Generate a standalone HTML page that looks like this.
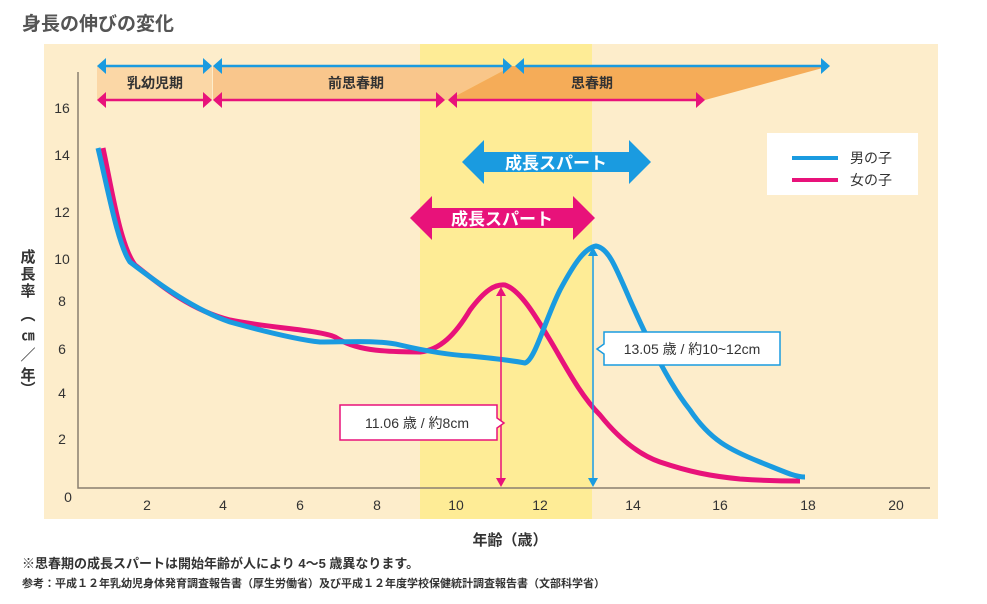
<!DOCTYPE html><html><head><meta charset="utf-8"><style>body{margin:0;background:#fff}svg{display:block;font-family:"Liberation Sans","Noto Sans CJK JP",sans-serif}</style></head><body>
<svg width="987" height="604" viewBox="0 0 987 604">
<text x="22" y="30" font-size="19" font-weight="bold" fill="#555">身長の伸びの変化</text>
<rect x="44" y="44" width="894" height="475" fill="#FDEDCB"/>
<rect x="420" y="44" width="172" height="475" fill="#FEEC96"/>
<rect x="97" y="66" width="115" height="34" fill="#FBD7A6"/>
<polygon points="213,66 512,66 448,100 213,100" fill="#F9C488" opacity="0.95"/>
<polygon points="512,66 830,66 705,100 448,100" fill="#F5AC58"/>
<g font-size="14" font-weight="bold" fill="#333" text-anchor="middle"><text x="155" y="88">乳幼児期</text><text x="356" y="88">前思春期</text><text x="592" y="88">思春期</text></g>
<g stroke-width="2.5" fill="none">
<g stroke="#1A9BE0"><line x1="100" y1="66" x2="209" y2="66"/><line x1="216" y1="66" x2="509" y2="66"/><line x1="518" y1="66" x2="827" y2="66"/></g>
<g stroke="#E8127A"><line x1="100" y1="100" x2="209" y2="100"/><line x1="216" y1="100" x2="442" y2="100"/><line x1="451" y1="100" x2="702" y2="100"/></g>
</g>
<g fill="#1A9BE0"><path d="M97 66l9-8v16z"/><path d="M212 66l-9-8v16z"/><path d="M213 66l9-8v16z"/><path d="M512 66l-9-8v16z"/><path d="M515 66l9-8v16z"/><path d="M830 66l-9-8v16z"/></g>
<g fill="#E8127A"><path d="M97 100l9-8v16z"/><path d="M212 100l-9-8v16z"/><path d="M213 100l9-8v16z"/><path d="M445 100l-9-8v16z"/><path d="M448 100l9-8v16z"/><path d="M705 100l-9-8v16z"/></g>
<path d="M78 72V488H930" stroke="#8a7f70" stroke-width="1.5" fill="none"/>
<g font-size="14" fill="#333" text-anchor="middle">
<text x="62" y="113">16</text><text x="62" y="160">14</text><text x="62" y="217">12</text><text x="62" y="264">10</text><text x="62" y="306">8</text><text x="62" y="354">6</text><text x="62" y="398">4</text><text x="62" y="444">2</text><text x="68" y="502">0</text>
<text x="147" y="510">2</text><text x="223" y="510">4</text><text x="300" y="510">6</text><text x="377" y="510">8</text><text x="456" y="510">10</text><text x="540" y="510">12</text><text x="633" y="510">14</text><text x="720" y="510">16</text><text x="808" y="510">18</text><text x="896" y="510">20</text>
</g>
<g font-size="15" font-weight="bold" fill="#333" text-anchor="middle"><text x="28" y="262">成</text><text x="28" y="279">長</text><text x="28" y="296">率</text><text x="28" y="320">︵</text><text x="28" y="340" font-size="13">㎝</text><text x="28" y="360">／</text><text x="28" y="380">年</text><text x="28" y="394">︶</text></g>
<text x="510" y="545" font-size="15" font-weight="bold" fill="#333" text-anchor="middle">年齢（歳）</text>
<text x="22" y="568" font-size="13" font-weight="bold" fill="#333">※思春期の成長スパートは開始年齢が人により 4～5 歳異なります。</text>
<text x="22" y="587" font-size="11" font-weight="bold" fill="#333">参考：平成１２年乳幼児身体発育調査報告書（厚生労働省）及び平成１２年度学校保健統計調査報告書（文部科学省）</text>
<path d="M462 162l22-22v12h145v-12l22 22-22 22v-12h-145v12z" fill="#1A9BE0"/>
<text x="556" y="169" font-size="17" font-weight="bold" fill="#fff" text-anchor="middle">成長スパート</text>
<path d="M410 218l22-22v12h141v-12l22 22-22 22v-12h-141v12z" fill="#E8127A"/>
<text x="502" y="225" font-size="17" font-weight="bold" fill="#fff" text-anchor="middle">成長スパート</text>
<rect x="767" y="133" width="151" height="62" fill="#fff"/>
<line x1="792" y1="158" x2="838" y2="158" stroke="#1A9BE0" stroke-width="4"/><line x1="792" y1="180" x2="838" y2="180" stroke="#E8127A" stroke-width="4"/>
<text x="850" y="163" font-size="14" fill="#333">男の子</text><text x="850" y="185" font-size="14" fill="#333">女の子</text>
<path d="M103 148C112 190 120 245 135 265C160 285 190 310 230 320C270 328 320 330 335 337C355 350 380 352 420 352C440 350 455 335 470 310C485 290 495 284 505 285C520 290 535 315 550 340C565 365 580 395 600 415C620 440 640 455 660 462C690 472 710 476 740 479C770 481 790 481 800 481" fill="none" stroke="#E8127A" stroke-width="5" stroke-linejoin="round"/>
<path d="M98 148C108 190 118 245 130 262C160 285 195 310 230 322C270 333 300 340 320 342C350 342 380 340 400 345C430 352 450 355 470 356C490 358 510 360 525 363C535 360 545 320 560 290C575 262 585 248 596 246C608 248 615 265 630 300C650 345 670 385 690 410C710 440 730 450 760 462C785 472 795 477 805 477" fill="none" stroke="#1A9BE0" stroke-width="5" stroke-linejoin="round"/>
<g stroke-width="1.5"><line x1="501" y1="290" x2="501" y2="484" stroke="#E8127A"/><line x1="593" y1="250" x2="593" y2="484" stroke="#1A9BE0"/></g>
<path d="M501 287l-5 9h10z M501 487l-5-9h10z" fill="#E8127A"/><path d="M593 247l-5 9h10z M593 487l-5-9h10z" fill="#1A9BE0"/>
<path d="M604 332H780V365H604V354L597 349L604 344Z" fill="#fff" stroke="#1A9BE0" stroke-width="1.5"/>
<text x="692" y="354" font-size="14" fill="#333" text-anchor="middle">13.05 歳 / 約10~12cm</text>
<path d="M340 405H497V418L504 423L497 428V440H340Z" fill="#fff" stroke="#E8127A" stroke-width="1.5"/>
<text x="417" y="428" font-size="14" fill="#333" text-anchor="middle">11.06 歳 / 約8cm</text>
</svg></body></html>
